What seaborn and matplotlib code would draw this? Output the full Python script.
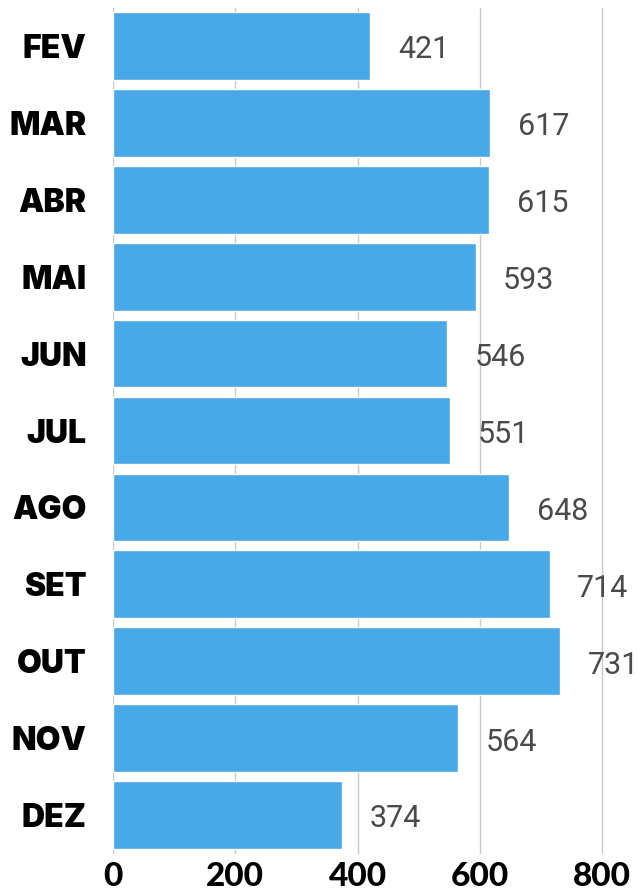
import matplotlib
matplotlib.use('Agg')
import matplotlib.pyplot as plt
import seaborn as sns
import pandas as pd

# Data
meses = ['FEV', 'MAR', 'ABR', 'MAI', 'JUN', 'JUL', 'AGO', 'SET', 'OUT', 'NOV', 'DEZ']
valores = [421, 617, 615, 593, 546, 551, 648, 714, 731, 564, 374]
x_ticks = [0, 200, 400, 600, 800]

df = pd.DataFrame({'mes': meses, 'valor': valores})

sns.set_style('white')

fig = plt.figure(figsize=(6.39, 8.93), dpi=100)
ax = fig.add_axes([0.1768, 0.0442, 1 - 0.1768, 0.9916 - 0.0442])

sns.barplot(data=df, x='valor', y='mes', orient='h', color='#48a8e8',
            saturation=1, width=0.88, ax=ax, zorder=2)

ax.set_xlim(0, 860)
ax.set_xticks(x_ticks)
ax.grid(axis='x', color='#c8c8c8', linewidth=1, zorder=0)
ax.set_axisbelow(True)
for s in ax.spines.values():
    s.set_visible(False)

ax.set_xlabel('')
ax.set_ylabel('')
ax.tick_params(axis='both', length=0)
ax.tick_params(axis='y', pad=19)
ax.tick_params(axis='x', pad=6)

for lbl in ax.get_yticklabels():
    lbl.set_fontfamily(['Inter', 'DejaVu Sans'])
    lbl.set_fontweight(900)
    lbl.set_fontsize(23)
    lbl.set_color('black')
for lbl in ax.get_xticklabels():
    lbl.set_fontfamily(['Lato', 'DejaVu Sans'])
    lbl.set_fontweight(900)
    lbl.set_fontsize(24)
    lbl.set_color('black')

# value labels
for i, v in enumerate(valores):
    ax.text(v + 45, i + 0.05, str(v), va='center', ha='left',
            fontsize=22, color='#4a4a4a', family=['Roboto', 'DejaVu Sans'],
            fontweight='normal')

plt.savefig('out.png', dpi=100)
